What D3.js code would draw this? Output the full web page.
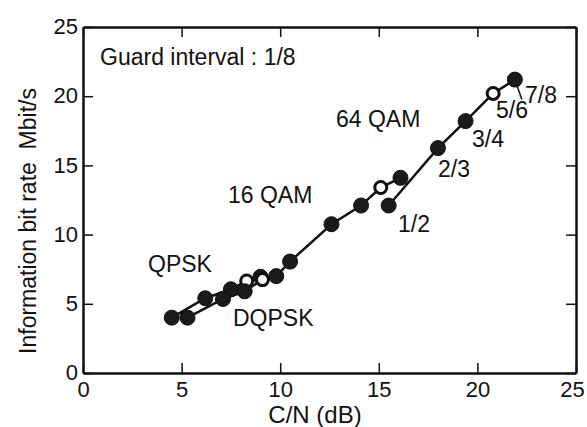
<!DOCTYPE html>
<html lang="en">
  <head>
    <title>Information bit rate vs C/N</title>
    <style>
      body { margin: 0; background: #fff; }
      text { font-family: "Liberation Sans", Arial, sans-serif; fill: #111; }
    </style>
  </head>
  <body>
    <div id="viz"></div>
    <script src="https://cdn.jsdelivr.net/npm/d3@7"></script>
    <script>
      // data (guard interval 1/8)
      const codeRates = ['1/2', '2/3', '3/4', '5/6', '7/8']
      const qpskCN = [4.5, 6.2, 7.5, 8.3, 9.0]
      const qpskRate = [4.0, 5.4, 6.05, 6.65, 6.95]
      const dqpskCN = [5.3, 7.1, 8.2, 9.1, 9.8]
      const dqpskRate = [4.0, 5.35, 5.9, 6.75, 7.0]
      const qam16CN = [10.5, 12.6, 14.1, 15.1, 16.1]
      const qam16Rate = [8.05, 10.75, 12.1, 13.4, 14.1]
      const qam64CN = [15.5, 18.0, 19.4, 20.8, 21.9]
      const qam64Rate = [12.1, 16.25, 18.2, 20.2, 21.2]
      const xTicks = [0, 5, 10, 15, 20, 25]
      const yTicks = [0, 5, 10, 15, 20, 25]

      const width = 587
      const height = 427
      const margin = { top: 27, right: 11, bottom: 54, left: 83 }

      const svg = d3.select('#viz').append('svg')
        .attr('width', width).attr('height', height)

      const x = d3.scaleLinear().domain([0, 25]).range([margin.left, width - margin.right])
      const y = d3.scaleLinear().domain([0, 25]).range([height - margin.bottom, margin.top])

      const zip = (xs, ys) => xs.map((v, i) => ({ cn: v, rate: ys[i], cr: codeRates[i] }))
      const qpsk = zip(qpskCN, qpskRate)
      const dqpsk = zip(dqpskCN, dqpskRate)
      const qam16 = zip(qam16CN, qam16Rate)
      const qam64 = zip(qam64CN, qam64Rate)

      // frame axes with inward ticks
      const tickLen = 10
      svg.append('g').attr('transform', `translate(0,${y(0)})`)
        .call(d3.axisBottom(x).tickValues(xTicks).tickSizeInner(-tickLen).tickSizeOuter(0).tickPadding(7))
        .call(g => g.selectAll('text').attr('font-size', 22).attr('dy', '0.75em'))
        .call(g => g.selectAll('text').filter(d => d === 25).attr('dx', -4))
      svg.append('g').attr('transform', `translate(${x(0)},0)`)
        .call(d3.axisLeft(y).tickValues(yTicks).tickSizeInner(-tickLen).tickSizeOuter(0).tickPadding(5))
        .call(g => g.selectAll('text').attr('font-size', 22).attr('dy', '0.3em'))
      svg.append('g').attr('transform', `translate(0,${y(25)})`)
        .call(d3.axisTop(x).tickValues(xTicks).tickSizeInner(-tickLen).tickSizeOuter(0).tickFormat(''))
      svg.append('g').attr('transform', `translate(${x(25)},0)`)
        .call(d3.axisRight(y).tickValues(yTicks).tickSizeInner(-tickLen).tickSizeOuter(0).tickFormat(''))
      svg.selectAll('.domain').attr('stroke', '#111').attr('stroke-width', 2.5)
      svg.selectAll('.tick line').attr('stroke', '#111').attr('stroke-width', 1.5)
      svg.selectAll('.tick text').attr('fill', '#111')
        .attr('font-family', '"Liberation Sans", Arial, sans-serif')

      // lines
      const line = d3.line().x(d => x(d.cn)).y(d => y(d.rate))
      const lines = [
        qpsk,
        dqpsk.concat(qam16),
        qam64
      ]
      svg.append('g').selectAll('path').data(lines).join('path')
        .attr('d', line)
        .attr('fill', 'none')
        .attr('stroke', '#111')
        .attr('stroke-width', 2.5)

      // leader from 7/8 point to its label
      const last = qam64[qam64.length - 1]
      svg.append('line')
        .attr('x1', x(last.cn)).attr('y1', y(last.rate))
        .attr('x2', x(last.cn) + 7).attr('y2', y(last.rate) + 20)
        .attr('stroke', '#111').attr('stroke-width', 1.5)

      // markers: 5/6 open, others filled
      const all = [...qpsk, ...dqpsk, ...qam16, ...qam64]
      svg.append('g').selectAll('circle').data(all).join('circle')
        .attr('cx', d => x(d.cn))
        .attr('cy', d => y(d.rate))
        .attr('r', d => d.cr === '5/6' ? 6 : 7.5)
        .attr('fill', d => d.cr === '5/6' ? '#fff' : '#1a1a1a')
        .attr('stroke', '#111')
        .attr('stroke-width', d => d.cr === '5/6' ? 3 : 1)

      // annotations
      const labels = [
        { t: 'Guard interval : 1/8', x: 100, y: 65 },
        { t: '64 QAM', x: 336, y: 127 },
        { t: '16 QAM', x: 228, y: 203 },
        { t: 'QPSK', x: 148, y: 272 },
        { t: 'DQPSK', x: 233, y: 326 },
        { t: '1/2', x: 398, y: 232 },
        { t: '2/3', x: 438, y: 177 },
        { t: '3/4', x: 472, y: 147 },
        { t: '5/6', x: 496, y: 118 },
        { t: '7/8', x: 525, y: 103 }
      ]
      svg.append('g').selectAll('text').data(labels).join('text')
        .attr('x', d => d.x).attr('y', d => d.y)
        .attr('font-size', 23)
        .text(d => d.t)

      svg.append('text')
        .attr('x', 315).attr('y', 423)
        .attr('text-anchor', 'middle')
        .attr('font-size', 24)
        .text('C/N (dB)')

      svg.append('text')
        .attr('transform', 'translate(36,221) rotate(-90)')
        .attr('text-anchor', 'middle')
        .attr('font-size', 23)
        .attr('xml:space', 'preserve')
        .text('Information bit rate  Mbit/s')
    </script>
  </body>
</html>
